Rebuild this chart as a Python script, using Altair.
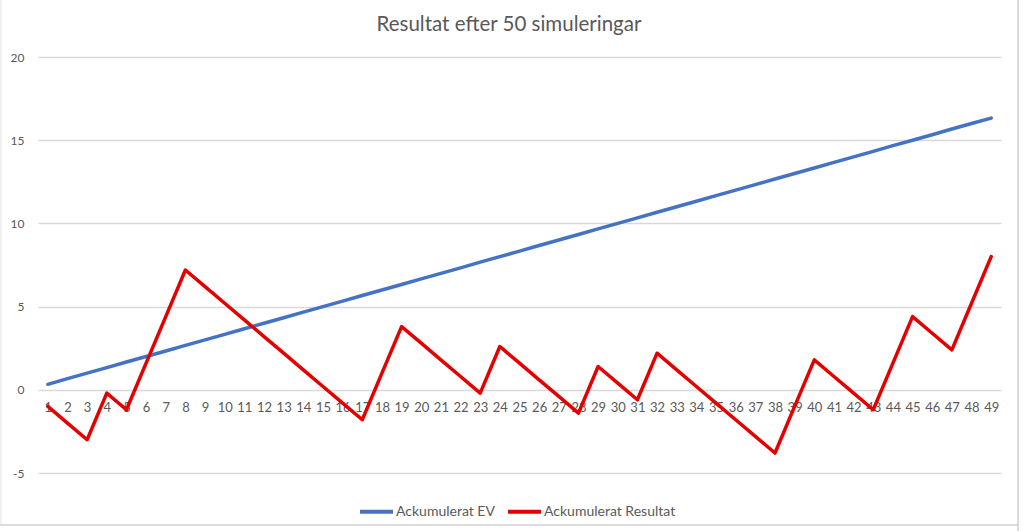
import altair as alt
import pandas as pd

title_text = ["Resultat efter 50 simuleringar"]

categories = list(range(1, 50))

ev = [0.33, 0.67, 1.00, 1.33, 1.67, 2.00, 2.33, 2.67, 3.00, 3.33,
      3.67, 4.00, 4.33, 4.67, 5.00, 5.33, 5.67, 6.00, 6.33, 6.67,
      7.00, 7.33, 7.67, 8.00, 8.33, 8.67, 9.00, 9.33, 9.67, 10.00,
      10.33, 10.67, 11.00, 11.33, 11.67, 12.00, 12.33, 12.67, 13.00, 13.33,
      13.67, 14.00, 14.33, 14.67, 15.00, 15.33, 15.67, 16.00, 16.33]

resultat = [-1.0, -2.0, -3.0, -0.2, -1.2, 1.6, 4.4, 7.2, 6.2, 5.2,
            4.2, 3.2, 2.2, 1.2, 0.2, -0.8, -1.8, 1.0, 3.8, 2.8,
            1.8, 0.8, -0.2, 2.6, 1.6, 0.6, -0.4, -1.4, 1.4, 0.4,
            -0.6, 2.2, 1.2, 0.2, -0.8, -1.8, -2.8, -3.8, -1.0, 1.8,
            0.8, -0.2, -1.2, 1.6, 4.4, 3.4, 2.4, 5.2, 8.0]

series = ["Ackumulerat EV", "Ackumulerat Resultat"]
colors = ["#4472C4", "#E40000"]
y_ticks = [-5, 0, 5, 10, 15, 20]

df = pd.DataFrame({
    "nr": categories + categories,
    "value": ev + resultat,
    "serie": [series[0]] * len(ev) + [series[1]] * len(resultat),
})

gray = "#595959"
font = "Lato"

lines = alt.Chart(df).mark_line(strokeWidth=3.5, strokeCap="round", strokeJoin="round").encode(
    x=alt.X("nr:O", sort=categories,
            scale=alt.Scale(type="point", padding=0.5),
            axis=alt.Axis(title=None, domain=False, ticks=False, grid=False, labelAngle=0,
                          offset=-83.2, labelPadding=12, labelColor=gray, labelFontSize=13,
                          labelFont=font)),
    y=alt.Y("value:Q", scale=alt.Scale(domain=[-5, 20], nice=False, zero=False),
            axis=alt.Axis(title=None, values=y_ticks, domain=False, ticks=False,
                          labelExpr="toString(datum.value)",
                          gridColor="#d9d9d9", gridWidth=1.3, labelColor=gray, labelFontSize=12,
                          labelFont=font, labelPadding=14)),
    color=alt.Color("serie:N", scale=alt.Scale(domain=series, range=colors),
                    legend=alt.Legend(title=None, orient="none", legendX=320, legendY=436,
                                      direction="horizontal", symbolType="stroke",
                                      symbolStrokeWidth=4, symbolSize=1089,
                                      labelFontSize=14, labelColor=gray, labelFont=font,
                                      labelOffset=1, columnPadding=5)),
)

title = alt.Chart(pd.DataFrame({"t": title_text})).mark_text(
    font=font, fontSize=20.5, color=gray, align="center", baseline="middle"
).encode(text="t:N", x=alt.value(471), y=alt.value(-32))

one = alt.Data(values=[{}])
frame_right = alt.Chart(one).mark_rule(color="#cfcfcf", strokeWidth=1.5).encode(
    x=alt.value(980), y=alt.value(-57), y2=alt.value(474))
frame_bottom = alt.Chart(one).mark_rule(color="#cfcfcf", strokeWidth=1.5).encode(
    x=alt.value(-38), x2=alt.value(980), y=alt.value(468))
frame_left = alt.Chart(one).mark_rule(color="#e3e3e3", strokeWidth=1).encode(
    x=alt.value(-37), y=alt.value(-57), y2=alt.value(468))

chart = alt.layer(frame_left, frame_right, frame_bottom, title, lines).properties(
    width=963,
    height=416,
    background="white",
    autosize=alt.AutoSizeParams(type="none"),
    padding={"left": 38, "top": 57, "right": 23, "bottom": 58},
).configure_view(stroke=None)

chart.save("out.html", embed_options={"renderer": "svg", "actions": False})
